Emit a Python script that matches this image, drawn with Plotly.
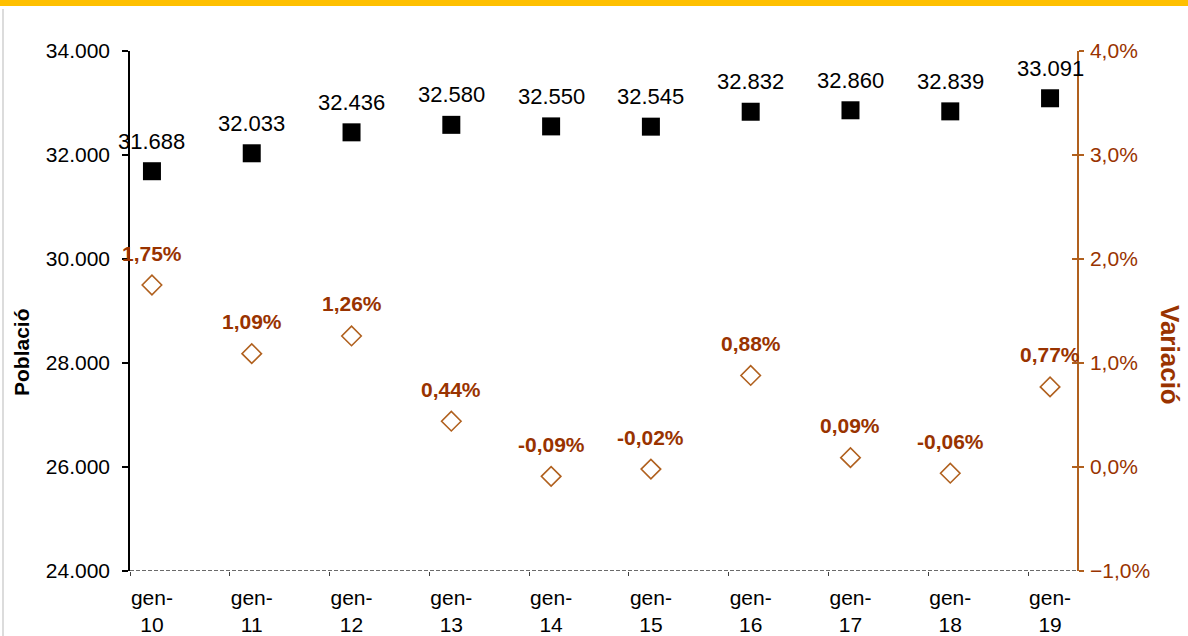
import plotly.graph_objects as go

categories = ["gen-10", "gen-11", "gen-12", "gen-13", "gen-14", "gen-15", "gen-16", "gen-17", "gen-18", "gen-19"]
poblacio = [31688, 32033, 32436, 32580, 32550, 32545, 32832, 32860, 32839, 33091]
variacio = [1.75, 1.09, 1.26, 0.44, -0.09, -0.02, 0.88, 0.09, -0.06, 0.77]

FONT = "Liberation Sans, Arial, sans-serif"
BROWN_AX = "#B0601E"
BROWN_TX = "#993300"

xs = list(range(len(categories)))
ticktext = [c.replace("-", "-<br>") for c in categories]

fig = go.Figure()
fig.add_trace(go.Scatter(x=xs, y=poblacio, mode="markers", yaxis="y",
                         marker=dict(symbol="square", size=18, color="black"),
                         showlegend=False, hoverinfo="skip"))
fig.add_trace(go.Scatter(x=xs, y=variacio, mode="markers", yaxis="y2",
                         marker=dict(symbol="diamond-open", size=15, color=BROWN_AX,
                                     line=dict(width=1.6, color=BROWN_AX)),
                         showlegend=False, hoverinfo="skip"))
fig.add_trace(go.Scatter(x=[None], y=[None], yaxis="y3", showlegend=False, hoverinfo="skip"))

annotations = []
for x, v in zip(xs, poblacio):
    annotations.append(dict(x=x, y=v, xref="x", yref="y", yshift=30, showarrow=False,
                            text=f"{v:,}".replace(",", "."),
                            font=dict(family=FONT, size=22, color="black")))
for x, v in zip(xs, variacio):
    annotations.append(dict(x=x, y=v, xref="x", yref="y2", yshift=32, showarrow=False,
                            text="<b>" + f"{v:.2f}".replace(".", ",") + "%</b>",
                            font=dict(family=FONT, size=21, color=BROWN_TX)))
annotations.append(dict(x=(22 - 130) / 947, y=(571 - 352) / 520, xref="paper", yref="paper",
                        xanchor="center", yanchor="middle", showarrow=False,
                        text="<b>Població</b>", textangle=-90,
                        font=dict(family=FONT, size=21, color="black")))
annotations.append(dict(x=(1170 - 130) / 947, y=(571 - 355) / 520, xref="paper", yref="paper",
                        xanchor="center", yanchor="middle", showarrow=False,
                        text="<b>Variació</b>", textangle=90,
                        font=dict(family=FONT, size=26, color=BROWN_TX)))

shapes = [
    dict(type="rect", xref="paper", yref="paper", x0=-0.2, x1=1.2,
         y0=(571 - 6) / 520, y1=1.2, fillcolor="#FFC000", line=dict(width=0), layer="above"),
    dict(type="line", xref="paper", yref="paper", x0=(3 - 130) / 947, x1=(3 - 130) / 947,
         y0=(571 - 9) / 520, y1=-0.2, line=dict(color="#D0D0D0", width=1.5)),
    dict(type="line", xref="paper", yref="y", x0=0, x1=1, y0=24000, y1=24000,
         line=dict(color="#3A3A3A", width=1.3, dash="4px,2px")),
]

fig.update_layout(
    width=1188, height=636,
    margin=dict(l=130, r=111, t=51, b=65, autoexpand=False),
    paper_bgcolor="white", plot_bgcolor="white",
    separators=",.",
    font=dict(family=FONT, size=20, color="black"),
    xaxis=dict(range=[-0.22, 9.27], tickvals=xs, ticktext=ticktext, ticks="",
               automargin=False,
               showgrid=False, zeroline=False, showline=False,
               tickfont=dict(family=FONT, size=21, color="black"),
               ticklabelstandoff=12,
               minor=dict(tick0=-0.22, dtick=1, ticks="outside", ticklen=4,
                          tickcolor="#404040", tickwidth=1, showgrid=False)),
    yaxis=dict(range=[24000, 34000], dtick=2000, tickformat=",d", showgrid=False,
               automargin=False, ticklabelstandoff=8,
               zeroline=False, showline=True, linecolor="black", linewidth=1.5,
               ticks="outside", ticklen=6, tickcolor="black", tickwidth=1.5,
               tickfont=dict(family=FONT, size=21, color="black")),
    yaxis2=dict(range=[-1, 4], dtick=1, tickformat=".1f", ticksuffix="%",
                automargin=False, ticklabelstandoff=2,
                overlaying="y", side="right", showgrid=False, zeroline=False,
                showline=True, linecolor=BROWN_AX, linewidth=1.5,
                ticks="outside", ticklen=5, tickcolor=BROWN_AX, tickwidth=1.5,
                tickfont=dict(family=FONT, size=21, color=BROWN_TX)),
    yaxis3=dict(range=[-1, 4], dtick=1, overlaying="y", side="right",
                automargin=False,
                showgrid=False, zeroline=False, showline=False, showticklabels=False,
                ticks="inside", ticklen=5, tickcolor=BROWN_AX, tickwidth=1.5),
    annotations=annotations,
    shapes=shapes,
)

fig.write_html("out.html", config={"displayModeBar": False},
               post_script="document.body.style.margin='0';document.body.style.overflow='hidden';")
